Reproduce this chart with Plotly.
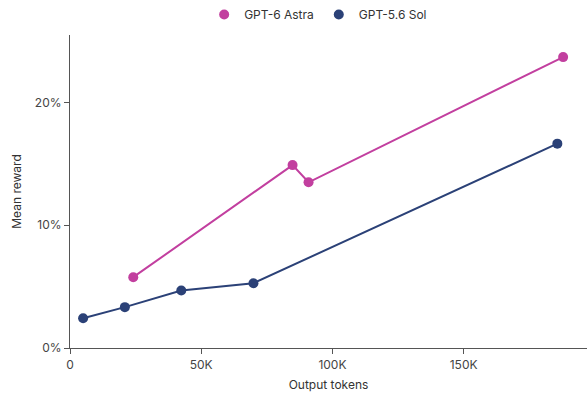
import plotly.graph_objects as go

# data
astra_tokens = [24100, 84800, 90900, 187900]
astra_reward = [0.0577, 0.149, 0.135, 0.237]
sol_tokens = [5000, 20900, 42400, 69900, 185700]
sol_reward = [0.0242, 0.0333, 0.0468, 0.0528, 0.1665]

x_ticks = [0, 50000, 100000, 150000]
x_tick_text = ["0", "50K", "100K", "150K"]
y_ticks = [0, 0.1, 0.2]

ASTRA = "#C23F9F"
SOL = "#2B4177"
FONT = "Inter, 'Open Sans', sans-serif"

fig = go.Figure()
for name, xs, ys, color in [
    ("GPT-6 Astra", astra_tokens, astra_reward, ASTRA),
    ("GPT-5.6 Sol", sol_tokens, sol_reward, SOL),
]:
    fig.add_trace(go.Scatter(
        x=xs, y=ys, name=name, mode="lines+markers",
        line=dict(color=color, width=2),
        marker=dict(color=color, size=10),
        cliponaxis=False, showlegend=False,
    ))
    # dot-only legend entry, like the reference
    fig.add_trace(go.Scatter(
        x=[None], y=[None], name=name, mode="markers",
        marker=dict(color=color, size=10),
    ))

axis_common = dict(
    showgrid=False, zeroline=False, automargin=False,
    showline=True, linecolor="#555", linewidth=1.2,
    ticks="outside", ticklen=5, tickcolor="#555",
    tickfont=dict(size=12, color="#444"),
)

fig.update_layout(
    width=587, height=400,
    margin=dict(l=70, r=0, t=35, b=52),
    paper_bgcolor="white", plot_bgcolor="white",
    font=dict(family=FONT, color="#333"),
    showlegend=True,
    legend=dict(
        orientation="h", xanchor="center", x=0.48,
        yanchor="bottom", y=1.02,
        font=dict(size=12, color="#333"),
        itemwidth=30,
    ),
    xaxis=dict(
        range=[0, 197000], tickvals=x_ticks, ticktext=x_tick_text,
        title=dict(text="Output tokens", font=dict(size=12, color="#333"), standoff=10),
        **axis_common,
    ),
    yaxis=dict(
        range=[0, 0.255], tickvals=y_ticks, tickformat=".0%",
        title=dict(text="Mean reward", font=dict(size=12, color="#333"), standoff=10),
        **axis_common,
    ),
)

# drop the default 8px body margin so the figure fills the window
fig.write_html(
    "out.html",
    config={"displayModeBar": False},
    post_script="document.body.style.margin='0';",
)
